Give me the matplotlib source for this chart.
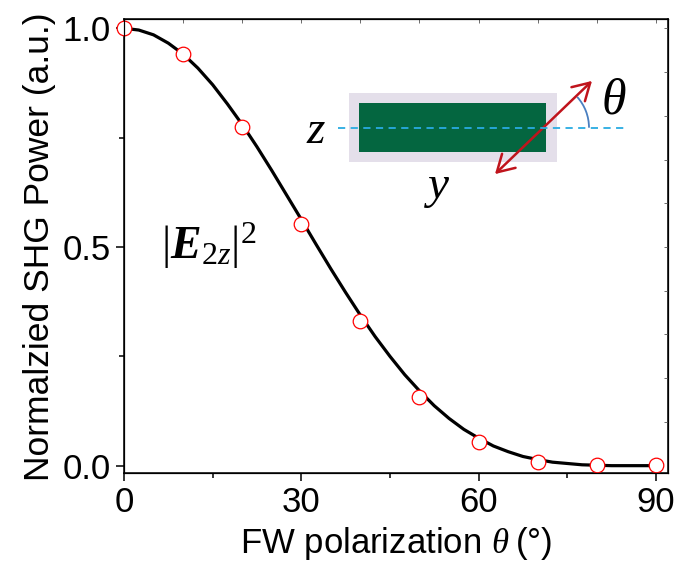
import numpy as np
import matplotlib
matplotlib.use("Agg")
import matplotlib.pyplot as plt
from matplotlib.patches import Rectangle, Arc, FancyArrowPatch
from matplotlib.ticker import MultipleLocator, FormatStrFormatter

plt.rcParams['font.family'] = ['Liberation Sans', 'DejaVu Sans']
plt.rcParams['mathtext.fontset'] = 'custom'
plt.rcParams['mathtext.rm'] = 'Liberation Serif'
plt.rcParams['mathtext.it'] = 'Liberation Serif:italic'
plt.rcParams['mathtext.bf'] = 'Liberation Serif:bold:italic'

# measured SHG power (normalized)
angle = [0, 10, 20, 30, 40, 50, 60, 70, 80, 90]
power = [1.0, 0.941, 0.774, 0.553, 0.331, 0.158, 0.054, 0.009, 0.002, 0.002]

# fitted curve, every 2.5 deg
fit_angle = [0, 2.5, 5, 7.5, 10, 12.5, 15, 17.5, 20, 22.5, 25, 27.5, 30, 32.5,
             35, 37.5, 40, 42.5, 45, 47.5, 50, 52.5, 55, 57.5, 60, 62.5, 65,
             67.5, 70, 72.5, 75, 77.5, 80, 82.5, 85, 87.5, 90]
fit_power = [1.0, 0.996, 0.985, 0.966, 0.941, 0.909, 0.871, 0.827, 0.780,
             0.729, 0.675, 0.619, 0.563, 0.506, 0.450, 0.396, 0.344, 0.295,
             0.250, 0.208, 0.171, 0.137, 0.108, 0.083, 0.063, 0.045, 0.032,
             0.021, 0.014, 0.008, 0.005, 0.002, 0.001, 0.0, 0.0, 0.0, 0.0]

fig = plt.figure(figsize=(6.79, 5.67), dpi=100)
ax = fig.add_axes([0.1826, 0.1653, 0.8008, 0.8007])

ax.plot(fit_angle, fit_power, color='black', lw=2.3, zorder=2)
ax.plot(angle, power, 'o', ms=10.5, mfc='white', mec='red', mew=0.9,
        clip_on=False, zorder=3)

ax.set_xlim(0, 92)
ax.set_ylim(-0.0174, 1.0206)
ax.xaxis.set_major_locator(MultipleLocator(30))
ax.xaxis.set_minor_locator(MultipleLocator(15))
ax.yaxis.set_major_locator(MultipleLocator(0.5))
ax.yaxis.set_minor_locator(MultipleLocator(0.25))
ax.yaxis.set_major_formatter(FormatStrFormatter('%.1f'))

for s in ax.spines.values():
    s.set_linewidth(1.1)
ax.tick_params(which='major', direction='out', length=5.5, width=1.1,
               labelsize=25, pad=4)
ax.tick_params(which='minor', direction='out', length=3.5, width=1.1)
ax.tick_params(axis='y', pad=4)

# faint inner ticks on top and right
axt = ax.twiny()
axt.set_xlim(ax.get_xlim())
axt.set_xticks(np.arange(10, 91, 10))
axt.tick_params(direction='in', length=3, width=0.6, color='#555555',
                labeltop=False)
axr = ax.twinx()
axr.set_ylim(ax.get_ylim())
axr.set_yticks(np.arange(0.1, 1.01, 0.1))
axr.tick_params(direction='in', length=3, width=0.6, color='#555555',
                labelright=False)

ax.set_xlabel(r'FW polarization $\theta\;$(°)', fontsize=25, labelpad=4)
ax.set_ylabel('Normalzied SHG Power (a.u.)', fontsize=25.5, labelpad=5)

# formula
ax.text(0.068, 0.50, r'$|\mathbf{E}_{\mathrm{2}z}|^{2}$', transform=ax.transAxes,
        fontsize=33, ha='left', va='center')

# inset sketch, in figure pixel coordinates
H = 567
def fy(y):
    return H - y

ax_in = fig.add_axes([0, 0, 1, 1], facecolor='none')
ax_in.set_xlim(0, 679)
ax_in.set_ylim(0, 567)
ax_in.axis('off')
ax_in.add_patch(Rectangle((349, fy(162.3)), 207.7, 69, fc='#e4dfea', ec='none'))
ax_in.add_patch(Rectangle((359, fy(151.7)), 186.7, 48.4, fc='#046640', ec='none'))
ax_in.plot([338, 627], [fy(127.7), fy(127.7)], color='#29abe2', lw=1.3,
           dashes=(4, 3))
ax_in.add_patch(Arc((543, fy(127.7)), 92, 92, theta1=0, theta2=42,
                    color='#4a7fc0', lw=1.3))
ax_in.add_patch(FancyArrowPatch((493, fy(176)), (594, fy(79)),
                                arrowstyle='<->,head_length=0.6,head_width=0.35',
                                color='#c0141c', lw=1.8, mutation_scale=20))
ax_in.text(316, fy(131), r'$z$', fontsize=34, ha='center', va='center')
ax_in.text(437, fy(188), r'$y$', fontsize=34, ha='center', va='center')
ax_in.text(614, fy(100), r'$\theta$', fontsize=36, ha='center', va='center')

fig.savefig('out.png', dpi=100)
